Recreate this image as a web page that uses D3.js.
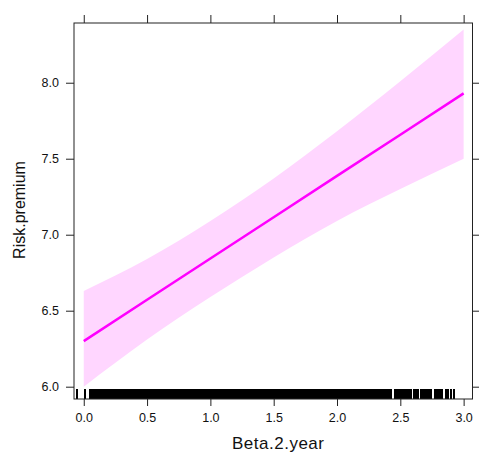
<!DOCTYPE html>
<html>
<head>
<meta charset="utf-8">
<script src="https://cdn.jsdelivr.net/npm/d3@7"></script>
<style>
  html, body { margin: 0; padding: 0; background: #fff; }
  svg { display: block; }
  text { font-family: "Liberation Sans", Arial, Helvetica, sans-serif; fill: #111; }
</style>
</head>
<body>
<svg id="chart" width="479" height="453"></svg>
<script>
// ---- data ----
const xTicks = [0.0, 0.5, 1.0, 1.5, 2.0, 2.5, 3.0];
const xTickLabels = ["0.0", "0.5", "1.0", "1.5", "2.0", "2.5", "3.0"];
const yTicks = [6.0, 6.5, 7.0, 7.5, 8.0];
const yTickLabels = ["6.0", "6.5", "7.0", "7.5", "8.0"];

const effX     = [0.0, 0.5, 1.0, 1.5, 2.0, 2.5, 3.0];
const effFit   = [6.30, 6.572, 6.843, 7.115, 7.387, 7.658, 7.93];
const effUpper = [6.63, 6.84, 7.09, 7.37, 7.68, 8.01, 8.35];
const effLower = [6.00, 6.31, 6.59, 6.85, 7.09, 7.30, 7.50];

// rug of observed Beta.2.year values
const rugSparseLeft = [-0.055, 0.01, 0.05];
const rugDense = [0.065,0.075,0.085,0.095,0.105,0.115,0.125,0.135,0.145,0.155,0.165,0.175,0.185,0.195,
 0.205,0.215,0.225,0.235,0.245,0.255,0.265,0.275,0.285,0.295,0.305,0.315,0.325,0.335,0.345,0.355,0.365,0.375,0.385,0.395,
 0.405,0.415,0.425,0.435,0.445,0.455,0.465,0.475,0.485,0.495,0.505,0.515,0.525,0.535,0.545,0.555,0.565,0.575,0.585,0.595,
 0.605,0.615,0.625,0.635,0.645,0.655,0.665,0.675,0.685,0.695,0.705,0.715,0.725,0.735,0.745,0.755,0.765,0.775,0.785,0.795,
 0.805,0.815,0.825,0.835,0.845,0.855,0.865,0.875,0.885,0.895,0.905,0.915,0.925,0.935,0.945,0.955,0.965,0.975,0.985,0.995,
 1.005,1.015,1.025,1.035,1.045,1.055,1.065,1.075,1.085,1.095,1.105,1.115,1.125,1.135,1.145,1.155,1.165,1.175,1.185,1.195,
 1.205,1.215,1.225,1.235,1.245,1.255,1.265,1.275,1.285,1.295,1.305,1.315,1.325,1.335,1.345,1.355,1.365,1.375,1.385,1.395,
 1.405,1.415,1.425,1.435,1.445,1.455,1.465,1.475,1.485,1.495,1.505,1.515,1.525,1.535,1.545,1.555,1.565,1.575,1.585,1.595,
 1.605,1.615,1.625,1.635,1.645,1.655,1.665,1.675,1.685,1.695,1.705,1.715,1.725,1.735,1.745,1.755,1.765,1.775,1.785,1.795,
 1.805,1.815,1.825,1.835,1.845,1.855,1.865,1.875,1.885,1.895,1.905,1.915,1.925,1.935,1.945,1.955,1.965,1.975,1.985,1.995,
 2.005,2.015,2.025,2.035,2.045,2.055,2.065,2.075,2.085,2.095,2.105,2.115,2.125,2.135,2.145,2.155,2.165,2.175,2.185,2.195,
 2.205,2.215,2.225,2.235,2.245,2.255,2.265,2.275,2.285,2.295,2.305,2.315,2.325,2.335,2.345,2.355,2.365,2.375,2.385,2.395,
 2.405,2.415,2.425];
const rugSparseRight = [2.46, 2.475,2.485,2.495,2.504, 2.52,2.53,2.539, 2.555,2.565,2.575,2.583,
 2.605,2.615,2.625,2.635,2.642, 2.662,2.672,2.682,2.692,2.702,2.712,2.722,2.732,2.745,
 2.775,2.785,2.795,2.805,2.815,2.826, 2.861, 2.879, 2.90, 2.927];

const xTitle = "Beta.2.year";
const yTitle = "Risk.premium";

// ---- layout ----
const svg = d3.select("#chart");
const pL = 74, pR = 472.5, pT = 23, pB = 399;

const x = d3.scaleLinear().domain([-0.077, 3.07]).range([pL, pR]);
const y = d3.scaleLinear().domain([5.919, 8.393]).range([pB, pT]);

svg.append("clipPath").attr("id", "panel")
  .append("rect").attr("x", pL).attr("y", pT).attr("width", pR - pL).attr("height", pB - pT);

const g = svg.append("g").attr("clip-path", "url(#panel)");

const pts = effX.map((v, i) => ({x: v, fit: effFit[i], lo: effLower[i], hi: effUpper[i]}));

g.append("path").datum(pts)
  .attr("d", d3.area().x(d => x(d.x)).y0(d => y(d.lo)).y1(d => y(d.hi)).curve(d3.curveMonotoneX))
  .attr("fill", "#ffd6ff").attr("stroke", "none");

g.append("path").datum(pts)
  .attr("d", d3.line().x(d => x(d.x)).y(d => y(d.fit)))
  .attr("fill", "none").attr("stroke", "#ff00ff").attr("stroke-width", 2.5);

const rug = rugSparseLeft.concat(rugDense, rugSparseRight);
g.append("g").attr("shape-rendering", "crispEdges").selectAll("line").data(rug).join("line")
  .attr("x1", d => x(d)).attr("x2", d => x(d))
  .attr("y1", pB - 10).attr("y2", pB)
  .attr("stroke", "#000").attr("stroke-width", 2);

// axes
const axisColor = "#222";
const fs = 12.5;
const ax = svg.append("g");

const bAxis = d3.axisBottom(x).tickValues(xTicks).tickFormat((d, i) => xTickLabels[i]).tickSize(7).tickPadding(7);
const tAxis = d3.axisTop(x).tickValues(xTicks).tickFormat("").tickSize(8);
const lAxis = d3.axisLeft(y).tickValues(yTicks).tickFormat((d, i) => yTickLabels[i]).tickSize(8).tickPadding(7);
const rAxis = d3.axisRight(y).tickValues(yTicks).tickFormat("").tickSize(7);

function style(sel) {
  sel.select(".domain").remove();
  sel.selectAll(".tick line").attr("stroke", axisColor).attr("stroke-width", 1);
  sel.selectAll(".tick text").attr("font-size", fs).attr("fill", "#111")
    .style("font-family", '"Liberation Sans", Arial, sans-serif');
}
ax.append("g").attr("transform", `translate(0,${pB})`).call(bAxis).call(style);
ax.append("g").attr("transform", `translate(0,${pT})`).call(tAxis).call(style);
ax.append("g").attr("transform", `translate(${pL},0)`).call(lAxis).call(style);
ax.append("g").attr("transform", `translate(${pR},0)`).call(rAxis).call(style);

svg.append("rect").attr("x", pL).attr("y", pT).attr("width", pR - pL).attr("height", pB - pT)
  .attr("fill", "none").attr("stroke", axisColor).attr("stroke-width", 1);

svg.append("text").attr("x", (pL + pR) / 2 + 5).attr("y", 449)
  .attr("text-anchor", "middle").attr("font-size", 17).style("letter-spacing", "0.5px").text(xTitle);

svg.append("text").attr("transform", `translate(25,${(pT + pB) / 2 - 1}) rotate(-90)`)
  .attr("text-anchor", "middle").attr("font-size", 16).text(yTitle);
</script>
</body>
</html>
